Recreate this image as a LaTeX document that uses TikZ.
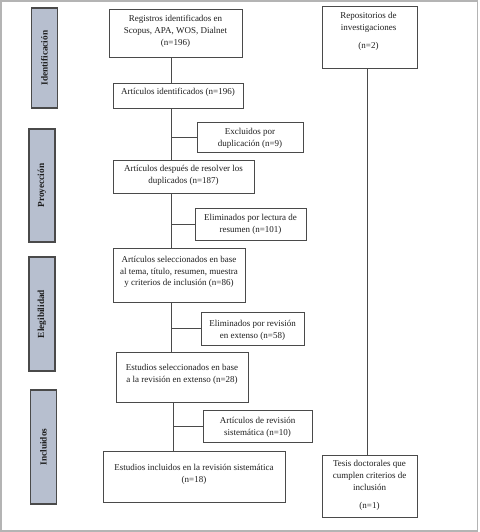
\documentclass[tikz,border=0pt]{standalone}
\usepackage{fontspec}
\setmainfont{Liberation Serif}
\definecolor{frame}{HTML}{B4B4B4}
\definecolor{boxline}{HTML}{4A4A4A}
\definecolor{stagefill}{HTML}{B7BFCF}
\definecolor{ink}{HTML}{1E1E1E}
\tikzset{
  box/.style={draw=boxline, line width=0.9pt, rectangle, inner sep=0pt},
  txt/.style={anchor=north, inner sep=0pt, align=center, text=ink, font=\fontsize{9}{12}\selectfont},
  stage/.style={draw=boxline, fill=stagefill, line width=1.1pt, rotate=90, inner sep=0pt,
     minimum height=26pt, text=ink, font=\fontsize{9.3}{11}\selectfont\bfseries},
  conn/.style={draw=boxline, line width=0.9pt}
}
\begin{document}
\begin{tikzpicture}[x=1pt,y=-1pt]
\useasboundingbox (0,0) rectangle (479,532);
\draw[frame, line width=1.4pt] (1,1) rectangle (477.5,531);

% stage bars
\node[stage, minimum width=100] (s1) at (44.5,58) {Identificación};
\node[stage, minimum width=113] (s2) at (42,185.5) {Proyección};
\node[stage, minimum width=114] (s3) at (42,314) {Elegibilidad};
\node[stage, minimum width=114] (s4) at (43.5,447) {Incluidos};

% boxes
\node[box, minimum width=133, minimum height=48] (b1) at (175.5,33) {};
\node[txt] (t1) at (175.5,12.6) {\strut Registros identificados en\\Scopus, APA, WOS, Dialnet\\(n=196)};

\node[box, minimum width=95, minimum height=62] (rep) at (369.5,37) {};
\node[txt] (trep) at (368.5,9.6) {\strut Repositorios de\\investigaciones\\[6pt](n=2)};

\node[box, minimum width=130, minimum height=25] (b2) at (178,95.5) {};
\node[txt] (t2) at (178,86.3) {\strut Artículos identificados (n=196)};

\node[box, minimum width=106, minimum height=30] (exc) at (250,137) {};
\node[txt] (texc) at (250,125.6) {\strut Excluidos por\\duplicación (n=9)};

\node[box, minimum width=141, minimum height=33] (b3) at (183.5,176.5) {};
\node[txt] (t3) at (183.5,162.6) {\strut Artículos después de resolver los\\duplicados (n=187)};

\node[box, minimum width=111, minimum height=32] (el1) at (250.5,224) {};
\node[txt] (tel1) at (250.5,211.6) {\strut Eliminados por lectura de\\resumen (n=101)};

\node[box, minimum width=132, minimum height=54] (b4) at (179,275) {};
\node[txt, font=\fontsize{9}{11.5}\selectfont] (t4) at (179,254.6) {\strut Artículos seleccionados en base\\al tema, título, resumen, muestra\\y criterios de inclusión (n=86)};

\node[box, minimum width=103, minimum height=33] (el2) at (252.5,328.5) {};
\node[txt] (tel2) at (252.5,317.6) {\strut Eliminados por revisión\\en extenso (n=58)};

\node[box, minimum width=132, minimum height=50] (b5) at (182,377) {};
\node[txt] (t5) at (182,361.6) {\strut Estudios seleccionados en base\\a la revisión en extenso (n=28)};

\node[box, minimum width=109, minimum height=32] (art) at (257.5,426) {};
\node[txt] (tart) at (257.5,414.6) {\strut Artículos de revisión\\sistemática (n=10)};

\node[box, minimum width=182, minimum height=51] (b6) at (194,476.5) {};
\node[txt] (t6) at (194,461.6) {\strut Estudios incluidos en la revisión sistemática\\(n=18)};

\node[box, minimum width=95, minimum height=62] (tes) at (369.5,486) {};
\node[txt] (ttes) at (369.5,457.6) {\strut Tesis doctorales que\\cumplen criterios de\\inclusión\\[6pt](n=1)};

% spines
\coordinate (spA) at (171,0);
\coordinate (spB) at (173,0);
\coordinate (spR) at (367,0);

\draw[conn] (b1.south -| spA) -- (b2.north -| spA);
\draw[conn] (b2.south -| spA) -- (b3.north -| spA);
\draw[conn] (exc.west -| spA) -- (exc.west);
\draw[conn] (b3.south -| spA) -- (b4.north -| spA);
\draw[conn] (el1.west -| spA) -- (el1.west);
\draw[conn] (b4.south -| spA) -- (b5.north -| spA);
\draw[conn] (el2.west -| spA) -- (el2.west);
\draw[conn] (b5.south -| spB) -- (b6.north -| spB);
\draw[conn] (art.west -| spB) -- (art.west);
\draw[conn] (rep.south -| spR) -- (tes.north -| spR);
\end{tikzpicture}
\end{document}
